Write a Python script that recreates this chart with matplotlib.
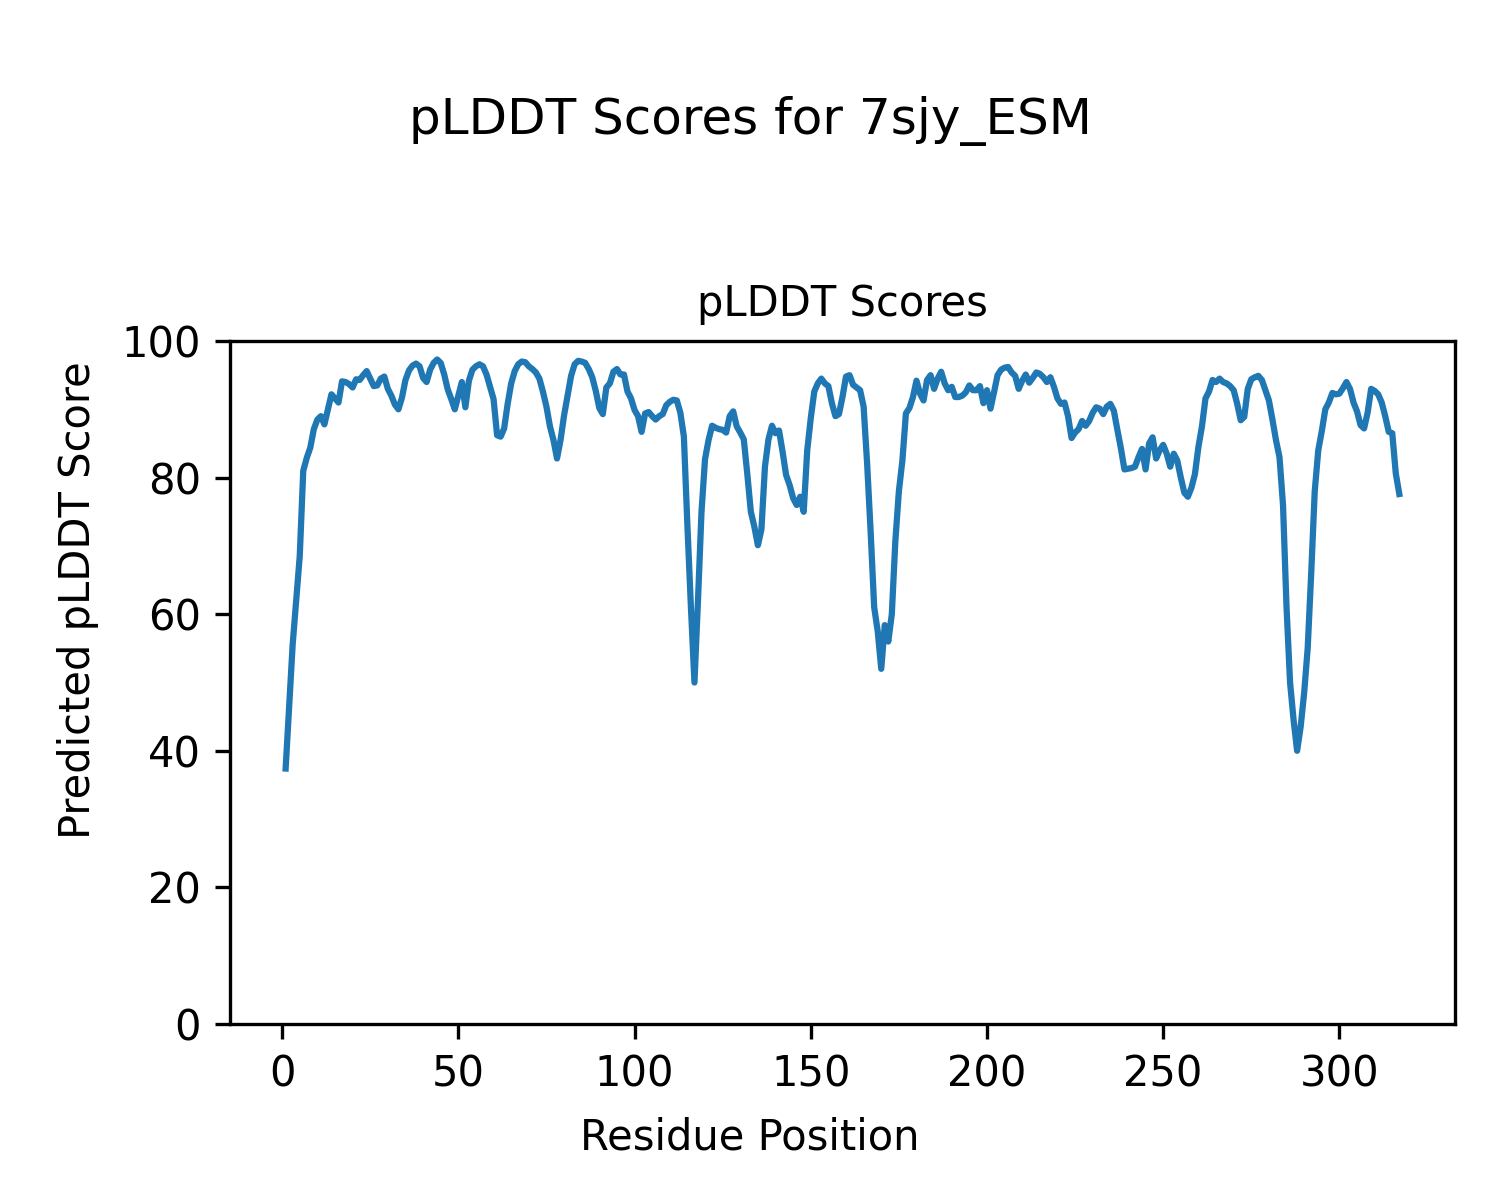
import numpy as np
import matplotlib
matplotlib.use("Agg")
import matplotlib.pyplot as plt

# pLDDT per residue (residues 1..317)
plddt = [
    37.4, 46.4, 55.6, 62.0, 68.5, 81.0, 82.9, 84.4, 87.1, 88.5,
    89.0, 87.8, 90.0, 92.2, 91.6, 91.0, 94.1, 94.0, 93.7, 93.2,
    94.4, 94.3, 95.0, 95.6, 94.5, 93.4, 93.5, 94.5, 94.8, 93.0,
    92.0, 90.7, 90.0, 91.7, 94.3, 95.7, 96.4, 96.7, 96.3, 94.6,
    94.0, 95.8, 96.8, 97.3, 96.8, 95.1, 92.9, 91.5, 90.0, 92.0,
    94.0, 90.3, 94.2, 95.8, 96.3, 96.6, 96.3, 95.1, 93.3, 91.5,
    86.2, 86.0, 87.2, 90.8, 93.8, 95.6, 96.6, 97.0, 96.9, 96.3, 95.9,
    95.4, 94.5, 92.6, 90.4, 87.5, 85.5, 82.8, 85.5, 89.1, 92.0,
    94.9, 96.6, 97.1, 97.0, 96.8, 95.9, 94.7, 92.7, 90.2, 89.3,
    93.2, 93.8, 95.5, 95.9, 95.1, 95.1, 92.6, 91.6, 89.9, 89.0,
    86.7, 89.4, 89.6, 89.0, 88.5, 89.0, 89.3, 90.6, 91.1, 91.4,
    91.3, 89.5, 86.0, 73.0, 61.0, 50.0, 62.0, 75.0, 82.7, 85.5,
    87.6, 87.3, 87.1, 87.0, 86.6, 89.0, 89.7, 87.5, 86.6, 85.6, 80.5,
    75.0, 72.8, 70.1, 72.4, 81.6, 85.6, 87.6, 86.5, 86.9, 83.8,
    80.4, 78.9, 77.0, 76.0, 77.2, 75.0, 84.0, 88.7, 92.6, 93.8,
    94.5, 93.8, 93.4, 90.9, 89.0, 89.3, 91.8, 94.8, 95.0, 93.6,
    93.2, 92.8, 90.4, 82.0, 72.0, 61.0, 57.5, 52.0, 58.4, 56.0,
    60.0, 70.7, 78.0, 82.5, 89.4, 90.2, 91.8, 94.2, 92.3, 91.3,
    94.3, 95.0, 93.0, 94.5, 95.5, 93.8, 92.8, 93.3, 91.8, 91.8, 92.0,
    92.5, 93.5, 92.8, 92.8, 93.4, 90.9, 92.8, 90.1, 92.5, 95.0,
    95.8, 96.1, 96.2, 95.4, 94.9, 93.0, 94.2, 95.1, 93.9, 94.6,
    95.4, 95.2, 94.7, 94.0, 94.7, 93.3, 91.6, 90.8, 91.0, 89.0,
    85.8, 86.6, 87.1, 88.3, 87.6, 88.3, 89.5, 90.3, 90.1, 89.3,
    90.4, 90.8, 89.8, 87.0, 84.3, 81.2, 81.3, 81.4, 81.6, 83.0, 84.2,
    81.2, 85.0, 85.9, 82.8, 84.0, 84.8, 83.5, 81.6, 83.5, 82.5,
    80.0, 77.8, 77.2, 78.5, 80.5, 84.5, 87.5, 91.6, 92.6, 94.3,
    94.0, 94.5, 94.0, 93.8, 93.4, 92.8, 90.8, 88.4, 88.9, 93.0,
    94.4, 94.7, 94.9, 94.3, 92.8, 91.3, 88.5, 85.5, 83.0, 76.0,
    61.0, 50.0, 44.5, 40.0, 43.5, 48.5, 55.0, 66.0, 78.0, 84.0,
    86.8, 90.0, 91.0, 92.4, 92.2, 92.3, 93.1, 94.0, 93.0, 91.0, 89.7,
    87.7, 87.2, 89.5, 93.0, 92.7, 92.2, 91.0, 89.0, 86.7, 86.5,
    80.6, 77.6,
]
residues = np.arange(1, len(plddt) + 1)
y_ticks = [0, 20, 40, 60, 80, 100]

fig = plt.figure(figsize=(5, 4), dpi=300)
fig.suptitle("pLDDT Scores for 7sjy_ESM", fontsize=12, y=0.92)
fig.supxlabel("Residue Position", fontsize=10, y=0.052, va="center")
fig.supylabel("Predicted pLDDT Score", fontsize=10, x=0.052, ha="center")

ax = fig.add_axes([0.1533, 0.1467, 0.8167, 0.5691])
ax.plot(residues, plddt, color="#1f77b4", linewidth=1.5)
ax.set_ylim(0, 100)
ax.set_yticks(y_ticks)
ax.set_title("pLDDT Scores", fontsize=10)

fig.savefig("out.png", dpi=300)
